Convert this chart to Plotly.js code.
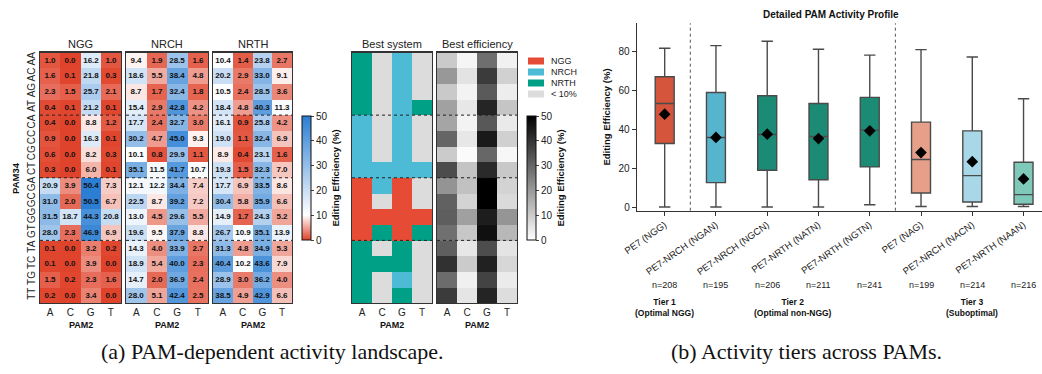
<!DOCTYPE html>
<html><head><meta charset="utf-8">
<script src="https://cdn.plot.ly/plotly-3.0.1.min.js"></script>
<style>html,body{margin:0;padding:0;background:#fff;} #chart{width:1042px;height:374px;}</style>
</head><body><div id="chart"></div>
<script>
// ---------------- data ----------------
const pam34 = ['AA','AC','AG','AT','CA','CC','CG','CT','GA','GC','GG','GT','TA','TC','TG','TT'];
const pam2 = ['A','C','G','T'];
const ngg = [
 [1.0,0.0,16.2,1.0],[1.6,0.1,21.8,0.3],[2.3,1.5,25.7,2.1],[0.4,0.1,21.2,0.1],
 [0.4,0.0,8.8,1.2],[0.9,0.0,16.3,0.1],[0.6,0.0,8.2,0.3],[0.3,0.0,6.0,0.1],
 [20.9,3.9,50.4,7.3],[31.0,2.0,50.5,6.7],[31.5,18.7,44.3,20.8],[28.0,2.3,46.9,6.9],
 [0.1,0.0,3.2,0.2],[0.1,0.0,3.9,0.0],[1.5,0.2,2.3,1.6],[0.2,0.0,3.4,0.0]];
const nrch = [
 [9.4,1.9,28.5,1.6],[18.6,5.5,38.4,4.8],[8.7,1.7,32.4,1.8],[15.4,2.9,42.8,4.2],
 [17.7,2.4,32.7,3.0],[30.2,4.7,45.0,9.3],[10.1,0.8,29.9,1.1],[35.1,11.5,41.7,10.7],
 [12.1,12.2,34.4,7.4],[22.5,8.7,39.2,7.2],[13.0,4.5,29.6,5.5],[19.6,9.5,37.9,8.8],
 [14.3,4.0,33.9,2.7],[18.9,5.4,40.0,2.3],[14.7,2.0,36.9,2.4],[28.0,5.1,42.4,2.5]];
const nrth = [
 [10.4,1.4,23.8,2.7],[20.2,2.9,33.0,9.1],[10.5,2.4,28.5,3.6],[18.4,4.8,40.3,11.3],
 [16.1,0.9,25.8,4.2],[19.0,1.1,32.4,6.9],[8.9,0.4,23.1,1.6],[19.3,1.5,32.3,7.0],
 [17.7,6.9,33.5,8.6],[30.4,5.8,35.9,6.6],[14.9,1.7,24.3,5.2],[26.7,10.9,35.1,13.9],
 [31.3,4.8,34.9,5.3],[40.4,10.2,43.6,7.9],[28.9,3.0,36.2,4.0],[38.5,4.9,42.9,6.6]];
const systemNames = ['NGG','NRCH','NRTH'];
const lowLabel = '< 10%';
const lowThreshold = 10;

const boxLabels = ['PE7 (NGG)','PE7-NRCH (NGAN)','PE7-NRCH (NGCN)','PE7-NRTH (NATN)','PE7-NRTH (NGTN)','PE7 (NAG)','PE7-NRCH (NACN)','PE7-NRTH (NAAN)'];
const boxQ1     = [32.8,12.6,19.0,14.1,20.7, 7.2, 2.6, 1.4];
const boxMedian = [53.4,35.9,37.4,36.4,39.7,24.5,16.2, 6.4];
const boxQ3     = [67.2,59.1,57.4,53.4,56.6,43.8,39.3,23.1];
const boxLow    = [0.0, 0.0, 0.0, 0.0, 1.2, 0.3, 0.3, 0.3];
const boxHigh   = [81.9,83.3,85.5,81.4,78.4,81.2,77.4,55.9];
const boxMean   = [47.9,35.9,37.6,35.3,39.3,28.1,23.4,14.5];
const boxN      = [208,195,206,211,241,199,214,216];
const tierNames = ['Tier 1<br>(Optimal NGG)','Tier 2<br>(Optimal non-NGG)','Tier 3<br>(Suboptimal)'];
const tierMembers = [[0],[1,2,3,4],[5,6,7]];

// ---------------- styling ----------------
const W = 1042, H = 374;
const px = x => x / W, py = y => 1 - y / H;
const FONT = 'Liberation Sans, Arial, sans-serif';
const sysColors = ['#e64b35','#4dbbd5','#00a087','#dcdcdc'];
const boxFill = ['#d4553c','#56b4cc','#1b8b76','#1b8b76','#1b8b76','#e6a08a','#a8d8e8','#7ec9ba'];
const divScale = [[0,'#e0432b'],[0.2,'#ffffff'],[1,'#2a7ed3']];
const grayScale = [[0,'#ffffff'],[1,'#000000']];

// derived
const best = pam34.map((r,i)=>pam2.map((c,j)=>{
  const v=[ngg[i][j],nrch[i][j],nrth[i][j]];
  const m=Math.max(...v);
  return m<lowThreshold?3:v.indexOf(m);
}));
const bestEff = pam34.map((r,i)=>pam2.map((c,j)=>Math.max(ngg[i][j],nrch[i][j],nrth[i][j])));

const hmDomains = [[40,121],[126,208],[213,292],[352,432],[437,517]];
const hmTitles = ['NGG','NRCH','NRTH','Best system','Best efficiency'];
const yTop = 52.5, yBot = 303;

const traces = [];
const layout = {
  width: W, height: H, margin:{l:0,r:0,t:0,b:0},
  paper_bgcolor:'#fff', plot_bgcolor:'#fff',
  font:{family:FONT, color:'#222'},
  showlegend:false, boxmode:'overlay',
  annotations:[], shapes:[]
};

const cbCommon = {
  thickness:9, len:124, lenmode:'pixels', yanchor:'middle', y:py(178), xanchor:'left',
  xpad:0, ypad:0, outlinewidth:1, outlinecolor:'#111', ticks:'outside', ticklen:3,
  tickvals:[0,10,20,30,40,50], tickfont:{size:10,color:'#222'},
  title:{text:'Editing Efficiency (%)', side:'right', font:{size:9.5, weight:'bold', color:'#111'}}
};

const mats = [ngg,nrch,nrth,best,bestEff];
mats.forEach((m,k)=>{
  const ax = k===0?'':String(k+1);
  const t = {type:'heatmap', x:pam2, y:pam34, z:m, xaxis:'x'+ax, yaxis:'y'+ax, hoverinfo:'skip'};
  if(k<3){
    Object.assign(t,{colorscale:divScale, zmin:0, zmax:50, showscale:k===2,
      texttemplate:'<b>%{z:.1f}</b>', textfont:{size:8,color:'#111',family:FONT}});
    if(k===2) t.colorbar = Object.assign({}, cbCommon, {x:px(302)});
  } else if(k===3){
    Object.assign(t,{colorscale:[[0,sysColors[0]],[0.25,sysColors[0]],[0.25,sysColors[1]],[0.5,sysColors[1]],
      [0.5,sysColors[2]],[0.75,sysColors[2]],[0.75,sysColors[3]],[1,sysColors[3]]], zmin:-0.5, zmax:3.5, showscale:false});
  } else {
    Object.assign(t,{colorscale:grayScale, zmin:0, zmax:50, showscale:true,
      colorbar:Object.assign({}, cbCommon, {x:px(527)})});
  }
  traces.push(t);
  const d = hmDomains[k];
  layout['xaxis'+ax] = {domain:[px(d[0]),px(d[1])], anchor:'y'+ax, showline:true, mirror:true,
    linecolor:'#333', linewidth:1.3, ticks:'', showgrid:false, zeroline:false,
    tickfont:{size:10,color:'#222'}, fixedrange:true};
  layout['yaxis'+ax] = {domain:[py(yBot),py(yTop)], anchor:'x'+ax, autorange:'reversed', showline:true, mirror:true,
    linecolor:'#333', linewidth:1.3, ticks:'', showgrid:false, zeroline:false,
    showticklabels:k===0, tickangle:-90, tickfont:{size:10,color:'#222'}, fixedrange:true};
  layout.annotations.push({xref:'paper',yref:'paper',x:px((d[0]+d[1])/2),y:py(44),text:hmTitles[k],
    showarrow:false,font:{size:11,color:'#222'},xanchor:'center',yanchor:'middle'});
  layout.annotations.push({xref:'paper',yref:'paper',x:px((d[0]+d[1])/2),y:py(325),text:'<b>PAM2</b>',
    showarrow:false,font:{size:9,color:'#111'},xanchor:'center',yanchor:'middle'});
  [3.5,7.5,11.5].forEach(yv=>layout.shapes.push({type:'line',xref:'x'+ax+' domain',yref:'y'+ax,
    x0:0,x1:1,y0:yv,y1:yv,line:{color:'#222',width:1,dash:'dot'}}));
});
layout.annotations.push({xref:'paper',yref:'paper',x:px(15),y:py(178),text:'<b>PAM34</b>',textangle:-90,
  showarrow:false,font:{size:9.5,color:'#111'},xanchor:'center',yanchor:'middle'});

// legend for best system
const legLabels = systemNames.concat([lowLabel]);
legLabels.forEach((lab,i)=>{
  const yc = 61 + i*11;
  layout.shapes.push({type:'rect',xref:'paper',yref:'paper',x0:px(528),x1:px(544),y0:py(yc-3.5),y1:py(yc+3.5),
    fillcolor:sysColors[i],line:{width:0}});
  layout.annotations.push({xref:'paper',yref:'paper',x:px(549),y:py(yc),text:lab,showarrow:false,
    xanchor:'left',yanchor:'middle',font:{size:9,color:'#222'}});
});

// ---------------- box plot ----------------
boxLabels.forEach((lab,i)=>{
  traces.push({type:'box', x:[lab], q1:[boxQ1[i]], median:[boxMedian[i]], q3:[boxQ3[i]],
    lowerfence:[boxLow[i]], upperfence:[boxHigh[i]], width:0.37, whiskerwidth:0.6,
    fillcolor:boxFill[i], line:{color:'#4a4a4a',width:1.4}, boxpoints:false,
    xaxis:'x6', yaxis:'y6', hoverinfo:'skip'});
});
traces.push({type:'scatter', mode:'markers', x:boxLabels, y:boxMean, xaxis:'x6', yaxis:'y6',
  marker:{symbol:'diamond', size:9, color:'#000'}, hoverinfo:'skip'});

layout.xaxis6 = {domain:[px(637),1], anchor:'y6', type:'category', range:[-0.54,7.36],
  showline:true, linecolor:'#333', linewidth:1.3, ticks:'outside', ticklen:4, tickcolor:'#333',
  tickangle:-35, tickfont:{size:9.5,color:'#222'}, showgrid:false, zeroline:false, fixedrange:true};
layout.yaxis6 = {domain:[py(210.7),py(23.3)], anchor:'x6', range:[-1.9,94.8],
  showline:true, linecolor:'#333', linewidth:1.3, ticks:'outside', ticklen:4, tickcolor:'#333',
  tickvals:[0,20,40,60,80], tickfont:{size:10,color:'#222'}, showgrid:false, zeroline:false, fixedrange:true,
  title:{text:'Editing Efficiency (%)', font:{size:9.5,weight:'bold',color:'#111'}, standoff:6}};
[0.5,4.5].forEach(xv=>layout.shapes.push({type:'line',xref:'x6',yref:'y6 domain',x0:xv,x1:xv,y0:0,y1:1,
  line:{color:'#555',width:1,dash:'dot'}}));
boxN.forEach((n,i)=>layout.annotations.push({xref:'x6',yref:'paper',x:i,y:py(285),text:'n='+n,
  showarrow:false,font:{size:9,color:'#222'},xanchor:'center',yanchor:'middle'}));
tierNames.forEach((t,k)=>{
  const mem = tierMembers[k];
  const xc = (mem[0]+mem[mem.length-1])/2;
  layout.annotations.push({xref:'x6',yref:'paper',x:xc,y:py(307),text:'<b>'+t.replace('<br>','</b><br><b>')+'</b>',
    showarrow:false,font:{size:8.5,color:'#111'},xanchor:'center',yanchor:'middle'});
});
layout.annotations.push({xref:'paper',yref:'paper',x:px(831),y:py(14),text:'<b>Detailed PAM Activity Profile</b>',
  showarrow:false,font:{size:10,color:'#111'},xanchor:'center',yanchor:'middle'});

// captions
layout.annotations.push({xref:'paper',yref:'paper',x:px(272),y:py(351),text:'(a) PAM-dependent activity landscape.',
  showarrow:false,font:{family:'Liberation Serif, Times New Roman, serif',size:22,color:'#111'},xanchor:'center',yanchor:'middle'});
layout.annotations.push({xref:'paper',yref:'paper',x:px(806),y:py(351),text:'(b) Activity tiers across PAMs.',
  showarrow:false,font:{family:'Liberation Serif, Times New Roman, serif',size:22,color:'#111'},xanchor:'center',yanchor:'middle'});

Plotly.newPlot('chart', traces, layout, {displayModeBar:false, staticPlot:true});
</script></body></html>
